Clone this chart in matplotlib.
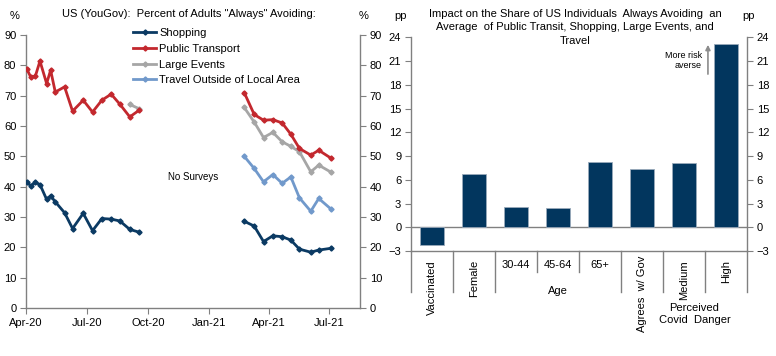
import numpy as np
import pandas as pd
import matplotlib
matplotlib.use("Agg")
import matplotlib.pyplot as plt
import matplotlib.dates as mdates
import matplotlib.transforms as mtrans

plt.rcParams['font.family'] = ['Liberation Sans', 'DejaVu Sans']
plt.rcParams['font.size'] = 8

# ---------------- data: left chart ----------------
dates_2020 = ["2020-04-02", "2020-04-08", "2020-04-15", "2020-04-22", "2020-05-02", "2020-05-08",
              "2020-05-15", "2020-05-29", "2020-06-10", "2020-06-26", "2020-07-10", "2020-07-24",
              "2020-08-07", "2020-08-20", "2020-09-04", "2020-09-18"]
dates_2021 = ["2021-02-23", "2021-03-10", "2021-03-24", "2021-04-07", "2021-04-21", "2021-05-04",
              "2021-05-17", "2021-06-03", "2021-06-15", "2021-07-04"]

shopping_2020 = [41.6, 40.3, 41.4, 40.7, 35.8, 37.0, 35.0, 31.4, 26.2, 31.2, 25.5, 29.5, 29.3, 28.7, 25.9, 25.0]
transport_2020 = [78.9, 76.2, 76.4, 81.4, 74.0, 78.4, 71.2, 72.9, 64.9, 68.5, 64.6, 68.5, 70.5, 67.2, 63.0, 65.2]
events_2020 = [np.nan] * 14 + [67.1, 65.7]
travel_2020 = [np.nan] * 16

shopping_2021 = [28.6, 27.0, 21.9, 23.8, 23.5, 22.4, 19.4, 18.4, 19.1, 19.7]
transport_2021 = [71.0, 63.8, 61.9, 62.1, 61.0, 57.3, 52.6, 50.4, 52.0, 49.3]
events_2021 = [66.1, 61.3, 56.2, 57.9, 54.8, 53.3, 51.5, 44.9, 47.1, 44.7]
travel_2021 = [50.0, 46.0, 41.6, 44.0, 41.1, 43.2, 36.3, 31.9, 36.1, 32.5]

series_names = ["Shopping", "Public Transport", "Large Events", "Travel Outside of Local Area"]
series_colors = ["#0b3a63", "#c3282e", "#a6a6a6", "#7199cb"]

# ---------------- data: right chart ----------------
bar_labels = ["Vaccinated", "Female", "30-44", "45-64", "65+", "Agrees  w/ Gov", "Medium", "High"]
bar_values = [-2.2, 6.7, 2.6, 2.4, 8.2, 7.4, 8.1, 23.2]

GRAY = "#808080"

fig = plt.figure(figsize=(7.76, 3.56), dpi=100)
W, H = 776, 356

def fig_rect(x0, y0, x1, y1):
    return [x0 / W, 1 - y1 / H, (x1 - x0) / W, (y1 - y0) / H]

# ---------------- left chart ----------------
ax1 = fig.add_axes(fig_rect(26, 35, 360, 308))
gap_date = pd.Timestamp("2020-12-15")
all_dates = pd.to_datetime(dates_2020 + [gap_date] + dates_2021)
all_series = [
    shopping_2020 + [np.nan] + shopping_2021,
    transport_2020 + [np.nan] + transport_2021,
    events_2020 + [np.nan] + events_2021,
    travel_2020 + [np.nan] + travel_2021,
]
order = [3, 2, 1, 0]
handles = {}
for i in order:
    h, = ax1.plot(all_dates, all_series[i], color=series_colors[i], lw=2.0,
                  marker="D", markersize=2.6, label=series_names[i], zorder=3 + (3 - i))
    handles[i] = h

ax1.set_xlim(pd.Timestamp("2020-04-01"), pd.Timestamp("2021-08-16"))
ax1.set_ylim(0, 90)
ax1.set_yticks(np.arange(0, 91, 10))
ax1.xaxis.set_major_locator(mdates.MonthLocator(bymonth=[1, 4, 7, 10]))
ax1.xaxis.set_major_formatter(mdates.DateFormatter("%b-%y"))
ax1.tick_params(axis="y", which="both", left=True, right=True, labelleft=True, labelright=True,
                direction="out", length=4, color=GRAY, pad=3, labelsize=8)
ax1.tick_params(axis="x", direction="out", length=4, color=GRAY, pad=3, labelsize=8)
ax1.spines["top"].set_visible(False)
for s in ["left", "right", "bottom"]:
    ax1.spines[s].set_color(GRAY)
    ax1.spines[s].set_linewidth(1.0)

ax1.text(0.5, 0.48, "No Surveys", transform=ax1.transAxes, ha="center", va="center", fontsize=7)
leg = ax1.legend([handles[i] for i in [0, 1, 2, 3]], [series_names[i] for i in [0, 1, 2, 3]],
                 loc="upper left", bbox_to_anchor=(133 / W, 1 - 28 / H),
                 bbox_transform=fig.transFigure, frameon=False, fontsize=8,
                 handlelength=2.1, handletextpad=0.25, labelspacing=0.52, borderpad=0,
                 borderaxespad=0)

fig.text(15 / W, 1 - 16 / H, "%", ha="center", va="center", fontsize=8)
fig.text(364 / W, 1 - 16 / H, "%", ha="center", va="center", fontsize=8)
fig.text(189 / W, 1 - 14 / H, 'US (YouGov):  Percent of Adults "Always" Avoiding:',
         ha="center", va="center", fontsize=8)

# ---------------- right chart ----------------
ax2 = fig.add_axes(fig_rect(411, 37.3, 747, 251))
x = np.arange(len(bar_labels))
ax2.bar(x, bar_values, width=0.55, color="#02365e", edgecolor="#9aaabb", linewidth=0.6, zorder=3)
ax2.axhline(0, color=GRAY, lw=1.0, zorder=2)
ax2.set_xlim(-0.5, len(bar_labels) - 0.5)
ax2.set_ylim(-3, 24)
ax2.set_yticks(np.arange(-3, 25, 3))
ax2.set_xticks([])
ax2.tick_params(axis="y", left=True, right=True, labelleft=True, labelright=True,
                direction="out", length=4, color=GRAY, pad=3, labelsize=8)
ax2.spines["top"].set_visible(False)
for s in ["left", "right", "bottom"]:
    ax2.spines[s].set_color(GRAY)
    ax2.spines[s].set_linewidth(1.0)

# annotation arrow
ax2.annotate("", xy=(6.57, 23.4), xytext=(6.57, 19.0),
             arrowprops=dict(arrowstyle="-|>", color="#8c8c8c", lw=1.2, mutation_scale=7))
ax2.text(6.42, 21.1, "More risk\naverse", ha="right", va="center", fontsize=6.5, linespacing=1.1)

# category axis (hierarchical)
trans = mtrans.blended_transform_factory(ax2.transData, ax2.transAxes)
ax_h_px = 251 - 37.3
long_y = -(292.3 - 251) / ax_h_px
short_y = -(271.7 - 251) / ax_h_px
boundaries = [-0.5, 0.5, 1.5, 2.5, 3.5, 4.5, 5.5, 6.5, 7.5]
short_bounds = [2.5, 3.5]
for b in boundaries:
    yb = short_y if b in short_bounds else long_y
    ax2.plot([b, b], [0, yb], transform=trans, color=GRAY, lw=1.0, clip_on=False)

label_top = -(260 - 251) / ax_h_px
for i, lab in enumerate(bar_labels):
    if lab in ("30-44", "45-64", "65+"):
        ax2.text(i, -(265 - 251) / ax_h_px, lab, transform=trans, ha="center", va="center", fontsize=8)
    else:
        top = -(256 - 251) / ax_h_px if lab.startswith("Agrees") else label_top
        ax2.text(i, top, lab, transform=trans, ha="center", va="top", rotation=90, fontsize=8)
ax2.text(3.0, -(291.5 - 251) / ax_h_px, "Age", transform=trans, ha="center", va="center", fontsize=8)
ax2.text(6.25, -(314 - 251) / ax_h_px, "Perceived\nCovid  Danger", transform=trans,
         ha="center", va="center", fontsize=8, linespacing=1.3)

fig.text(401 / W, 1 - 16 / H, "pp", ha="center", va="center", fontsize=8)
fig.text(749 / W, 1 - 16 / H, "pp", ha="center", va="center", fontsize=8)
fig.text(575 / W, 1 - 27.5 / H,
         "Impact on the Share of US Individuals  Always Avoiding  an\n"
         "Average  of Public Transit, Shopping, Large Events, and\nTravel",
         ha="center", va="center", fontsize=8, linespacing=1.4)

fig.savefig("out.png", dpi=100)
